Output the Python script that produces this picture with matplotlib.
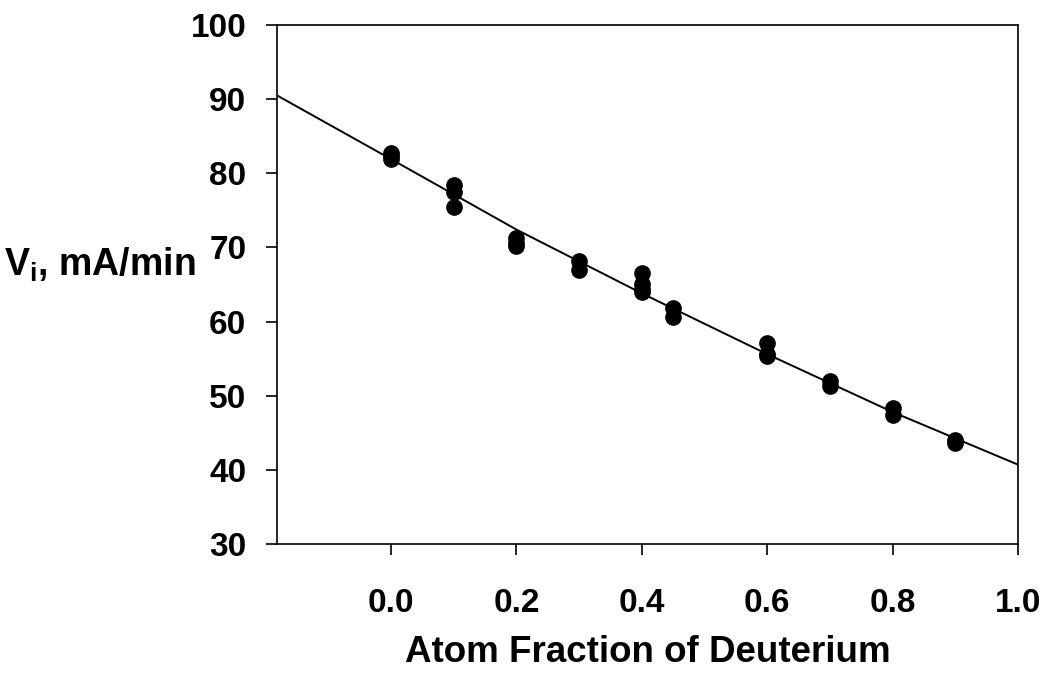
import matplotlib
matplotlib.use("Agg")
import matplotlib.pyplot as plt

# measured points: atom fraction of deuterium vs initial velocity
frac = [0.0, 0.0, 0.0,
        0.1, 0.1, 0.1,
        0.2, 0.2, 0.2,
        0.3, 0.3,
        0.4, 0.4, 0.4, 0.4,
        0.45, 0.45,
        0.6, 0.6, 0.6,
        0.7, 0.7,
        0.8, 0.8,
        0.9, 0.9]
vi = [82.7, 82.3, 81.9,
      78.4, 77.5, 75.4,
      71.2, 70.6, 70.2,
      68.1, 67.0,
      66.5, 65.0, 64.4, 64.0,
      61.8, 60.6,
      57.1, 55.6, 55.3,
      52.0, 51.3,
      48.4, 47.4,
      44.0, 43.6]

# fitted curve
fit_x = [-0.18, 0.0, 0.2, 0.4, 0.6, 0.8, 1.0]
fit_y = [90.4, 81.9, 72.4, 63.8, 55.6, 47.8, 40.7]

plt.rcParams['font.family'] = ['Liberation Sans', 'DejaVu Sans']
plt.rcParams['font.weight'] = 'bold'

fig = plt.figure(figsize=(10.5, 6.74), dpi=100)
ax = fig.add_axes([0.2638, 0.1929, 0.7057, 0.7701])

ax.plot(fit_x, fit_y, color='black', linewidth=1.4)
ax.plot(frac, vi, 'o', color='black', markersize=11)

ax.set_xlim(-0.182, 1.0)
ax.set_ylim(30, 100)
ax.set_xticks([0.0, 0.2, 0.4, 0.6, 0.8, 1.0])
ax.set_xticklabels(['0.0', '0.2', '0.4', '0.6', '0.8', '1.0'])
ax.set_yticks(range(30, 101, 10))

ax.tick_params(axis='x', direction='out', length=8, width=1.2, pad=24, labelsize=24)
ax.tick_params(axis='y', direction='out', length=8, width=1.2, pad=14, labelsize=24)
for lab in ax.get_xticklabels() + ax.get_yticklabels():
    lab.set_fontweight('bold')
for sp in ax.spines.values():
    sp.set_linewidth(1.2)

ax.set_xlabel('Atom Fraction of Deuterium', fontsize=26.5, fontweight='bold', labelpad=11)
fig.text(0.004, 0.607, r'V$_\mathregular{i}$, mA/min', fontsize=27, fontweight='bold',
         ha='left', va='center')

fig.savefig('out.png', dpi=100)
